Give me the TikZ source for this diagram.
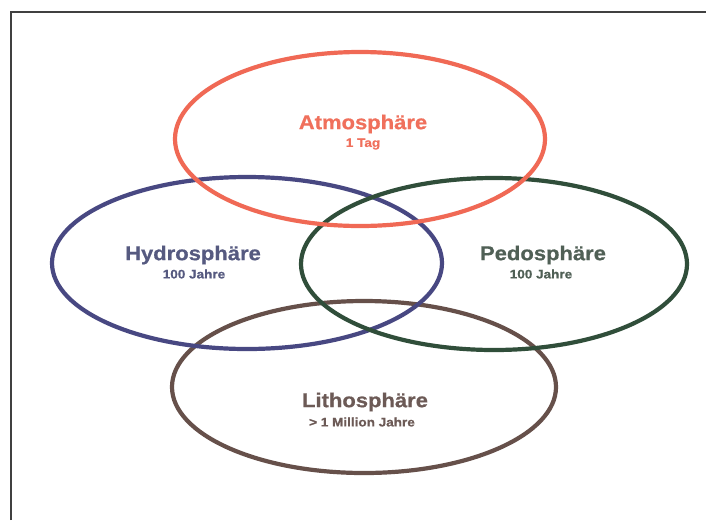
\documentclass[tikz,border=0pt]{standalone}
\usepackage{fontspec}
\setmainfont{Liberation Sans}
\newfontfamily\heavy[FakeStretch=1.1, FakeBold=0.6]{Liberation Sans Bold}
\usetikzlibrary{shapes.geometric}
\definecolor{atmo}{RGB}{240,105,85}
\definecolor{hydro}{RGB}{72,72,130}
\definecolor{pedo}{RGB}{48,78,58}
\definecolor{litho}{RGB}{102,80,74}
\definecolor{atmotxt}{RGB}{240,112,92}
\definecolor{hydrotxt}{RGB}{86,90,128}
\definecolor{pedotxt}{RGB}{80,96,86}
\definecolor{lithotxt}{RGB}{108,90,86}
\tikzset{
  sphere/.style={ellipse, draw, line width=4.2pt, inner sep=0pt},
  title/.style={font=\heavy\fontsize{20}{22}\selectfont, inner sep=0pt},
  span/.style={font=\heavy\fontsize{12.3}{14}\selectfont, inner sep=0pt},
  frame/.style={line width=2pt, draw=black!75}
}
\begin{document}
\begin{tikzpicture}[x=1pt, y=-1pt]
  \useasboundingbox[fill=white] (0,0) rectangle (706,520);
  % outer frame (open on the right and bottom)
  \draw[frame] (11,520) -- (11,12) -- (706,12);
  % the four spheres
  \node[sphere, draw=litho, minimum width=384pt, minimum height=172pt] (litho) at (364,387) {};
  \node[sphere, draw=hydro, minimum width=390pt, minimum height=172pt] (hydro) at (247,263) {};
  \node[sphere, draw=pedo, minimum width=386pt, minimum height=172pt] (pedo) at (494,264) {};
  \node[sphere, draw=atmo, minimum width=370pt, minimum height=174pt] (atmo) at (360,139) {};
  % labels
  \node[title, text=atmotxt] (atmoT) at (363,124) {Atmosphäre};
  \node[span, text=atmotxt] (atmoS) at (363,144) {1 Tag};
  \node[title, text=hydrotxt] (hydroT) at (193,255) {Hydrosphäre};
  \node[span, text=hydrotxt] (hydroS) at (194,274) {100 Jahre};
  \node[title, text=pedotxt] (pedoT) at (543,255) {Pedosphäre};
  \node[span, text=pedotxt] (pedoS) at (541,274) {100 Jahre};
  \node[title, text=lithotxt] (lithoT) at (365,402) {Lithosphäre};
  \node[span, text=lithotxt] (lithoS) at (362,422) {> 1 Million Jahre};
\end{tikzpicture}
\end{document}
